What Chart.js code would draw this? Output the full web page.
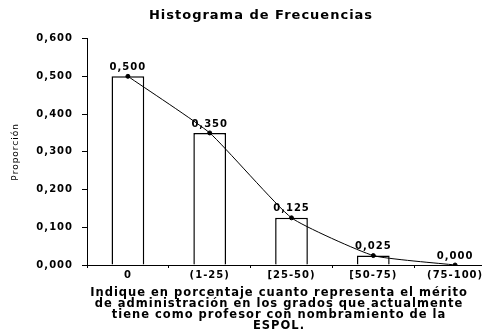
<!DOCTYPE html>
<html>
<head>
<meta charset="utf-8">
<script src="https://cdn.jsdelivr.net/npm/chart.js@4/dist/chart.umd.min.js"></script>
<style>
  html, body { margin: 0; padding: 0; background: #fff; overflow: hidden; }
  #wrap { width: 522px; height: 336px; }
</style>
</head>
<body>
<div id="wrap"><canvas id="histChart"></canvas></div>
<script>
const categories = ['0', '(1-25)', '[25-50)', '[50-75)', '(75-100)'];
const proportions = [0.500, 0.350, 0.125, 0.025, 0.000];
const xTitleLines = [
    'Indique en porcentaje cuanto representa el mérito',
    'de administración en los grados que actualmente',
    'tiene como profesor con nombramiento de la',
    'ESPOL.'
];

const fontFamily = '"DejaVu Sans", Arial, sans-serif';

function fmt(v) {
    return v.toFixed(3).replace('.', ',');
}

// the scanned chart has widely spaced lettering
const spacedText = {
    id: 'spacedText',
    beforeLayout(chart) { chart.ctx.letterSpacing = '1px'; },
    beforeDraw(chart) { chart.ctx.letterSpacing = '1px'; }
};

// writes the value above each point of the line
const pointLabels = {
    id: 'pointLabels',
    afterDatasetsDraw(chart) {
        const ctx = chart.ctx;
        const meta = chart.getDatasetMeta(1);
        ctx.save();
        ctx.font = 'bold 10px ' + fontFamily;
        ctx.fillStyle = '#000';
        ctx.textAlign = 'center';
        ctx.textBaseline = 'bottom';
        meta.data.forEach((pt, i) => {
            ctx.fillText(fmt(proportions[i]), pt.x, pt.y - 4);
        });
        ctx.restore();
    }
};

const ctx = document.getElementById('histChart').getContext('2d');

new Chart(ctx, {
    data: {
        labels: categories,
        datasets: [{
            type: 'bar',
            data: proportions,
            backgroundColor: '#fff',
            borderColor: '#000',
            borderWidth: 1.5,
            barPercentage: 0.8,
            categoryPercentage: 0.5,
            order: 2
        }, {
            type: 'line',
            data: proportions,
            borderColor: '#000',
            borderWidth: 1,
            pointRadius: 2,
            pointBackgroundColor: '#000',
            pointBorderColor: '#000',
            tension: 0.15,
            order: 1
        }]
    },
    options: {
        responsive: true,
        maintainAspectRatio: false,
        animation: false,
        events: [],
        layout: { padding: { top: 0, bottom: 4, left: 0, right: 0 } },
        plugins: {
            legend: { display: false },
            tooltip: { enabled: false },
            title: {
                display: true,
                text: 'Histograma de Frecuencias',
                color: '#000',
                font: { family: fontFamily, size: 13, weight: 'bold', lineHeight: 1.2 },
                padding: { top: 8, bottom: 15 }
            }
        },
        scales: {
            x: {
                offset: true,
                grid: {
                    display: true,
                    drawOnChartArea: false,
                    offset: true,
                    color: '#000',
                    tickLength: 3
                },
                border: { display: true, color: '#000', width: 1 },
                ticks: {
                    color: '#000',
                    padding: 1,
                    maxRotation: 0,
                    autoSkip: false,
                    font: { family: fontFamily, size: 10, weight: 'bold', lineHeight: 1.2 }
                },
                title: {
                    display: true,
                    // trailing spaces nudge the block left of the plot centre, as in the original
                    text: xTitleLines.map(s => s + '     '),
                    color: '#000',
                    font: { family: fontFamily, size: 11.5, weight: 'bold', lineHeight: '11px' },
                    padding: { top: 6, bottom: 0 }
                }
            },
            y: {
                min: 0,
                max: 0.6,
                afterFit(scale) { scale.width = 87; },
                grid: {
                    display: true,
                    drawOnChartArea: false,
                    color: '#000',
                    tickLength: 5
                },
                border: { display: true, color: '#000', width: 1 },
                ticks: {
                    stepSize: 0.1,
                    color: '#000',
                    padding: 9,
                    font: { family: fontFamily, size: 10, weight: 'bold' },
                    callback: v => fmt(v)
                },
                title: {
                    display: true,
                    text: 'Proporción',
                    color: '#000',
                    font: { family: fontFamily, size: 9 },
                    padding: { top: 10, bottom: 0 }
                }
            },
            // empty axis on the right so the plot runs past the visible edge
            spacer: {
                position: 'right',
                display: true,
                afterFit(scale) { scale.width = 26; },
                grid: { display: false },
                border: { display: false },
                ticks: { display: false }
            }
        }
    },
    plugins: [spacedText, pointLabels]
});
</script>
</body>
</html>
